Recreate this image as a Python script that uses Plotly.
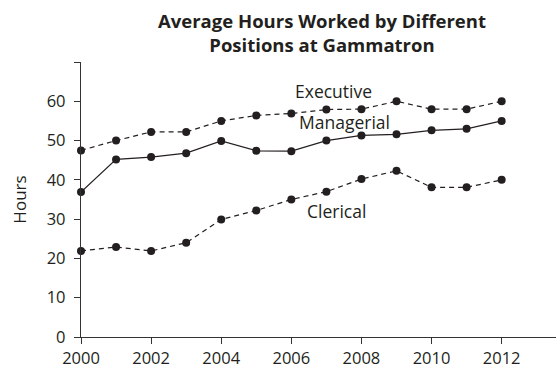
import plotly.graph_objects as go

years = list(range(2000, 2013))
executive = [47.5, 50.0, 52.2, 52.2, 55.0, 56.4, 56.9, 57.9, 58.0, 60.0, 58.0, 58.0, 60.0]
managerial = [36.9, 45.2, 45.8, 46.8, 49.9, 47.4, 47.3, 50.0, 51.3, 51.6, 52.6, 53.0, 55.0]
clerical = [21.9, 22.9, 21.9, 24.0, 29.9, 32.2, 35.0, 37.0, 40.2, 42.3, 38.1, 38.1, 40.0]

series_names = ["Executive", "Managerial", "Clerical"]
series_values = [executive, managerial, clerical]
series_dash = ["5px,4px", "solid", "5px,4px"]
label_pos = [(2007.19, 62.5), (2007.53, 54.7), (2007.3, 32.0)]

y_ticks = [0, 10, 20, 30, 40, 50, 60, 70]
y_ticktext = ["0", "10", "20", "30", "40", "50", "60", ""]
x_ticks = list(range(2000, 2013, 2))

INK = "#231f20"
AXIS = "#333333"
FONT = "Open Sans"

fig = go.Figure()
for name, vals, dash in zip(series_names, series_values, series_dash):
    fig.add_trace(go.Scatter(
        x=years, y=vals, name=name, mode="lines+markers",
        line=dict(color=INK, width=1.2, dash=dash),
        marker=dict(color=INK, size=8),
        cliponaxis=False, showlegend=False,
    ))

for name, (lx, ly) in zip(series_names, label_pos):
    fig.add_annotation(x=lx, y=ly, text=name, showarrow=False,
                       font=dict(family=FONT, size=17.5, color=INK))

# two-line bold heading above the plot area
fig.add_annotation(
    xref="paper", yref="paper", x=0.507, y=1.109,
    xanchor="center", yanchor="middle", showarrow=False,
    text="<b>Average Hours Worked by Different<br>Positions at Gammatron</b>",
    font=dict(family=FONT, size=18.5, color=INK),
)

fig.update_layout(
    width=556, height=371,
    margin=dict(l=81, r=0, t=62, b=34),
    paper_bgcolor="white", plot_bgcolor="white",
    font=dict(family=FONT, size=16, color=INK),
)
fig.update_xaxes(
    range=[2000, 2013.55], tickvals=x_ticks,
    showgrid=False, zeroline=False, showline=True, linecolor=AXIS, linewidth=1.3,
    ticks="outside", ticklen=6, tickcolor=AXIS, tickwidth=1.3,
    tickfont=dict(family=FONT, size=16.5, color=INK),
)
fig.update_yaxes(
    range=[0, 70], tickvals=y_ticks, ticktext=y_ticktext,
    showgrid=False, zeroline=False, showline=True, linecolor=AXIS, linewidth=1.3,
    ticks="outside", ticklen=6, tickcolor=AXIS, tickwidth=1.3,
    ticklabelstandoff=5,
    tickfont=dict(family=FONT, size=16.5, color=INK),
    title=dict(text="Hours", font=dict(family=FONT, size=17, color=INK), standoff=15),
)

fig.write_html("out.html")
